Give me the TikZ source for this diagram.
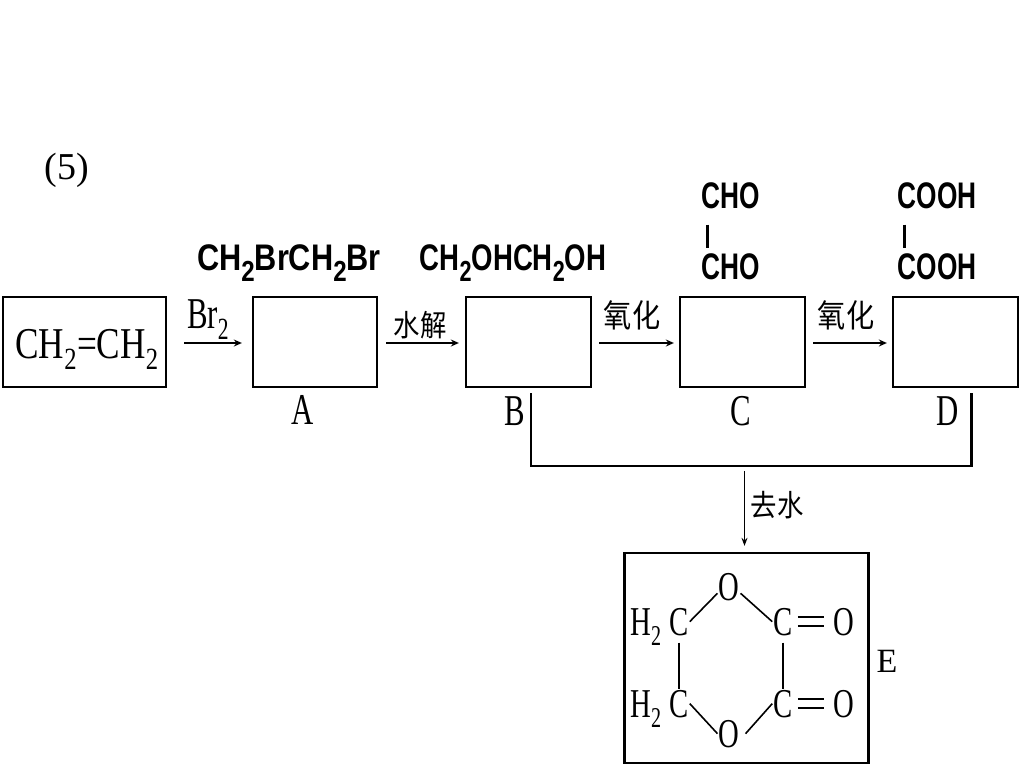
\documentclass[tikz,border=0pt]{standalone}
\usepackage{fontspec}
\usepackage{graphicx}
\setmainfont{Liberation Serif}
\newfontfamily\cjk{Noto Sans CJK SC}
\newfontfamily\hei{Liberation Sans}
\usetikzlibrary{arrows.meta,calc}
\newcommand\sfz[1]{\fontsize{#1}{#1}\selectfont}
\newcommand\nar[2]{\scalebox{#1}[1]{#2}}
\newcommand\bsub[1]{\raisebox{-0.3em}{\sfz{29}#1}}
\begin{document}
\begin{tikzpicture}[x=1pt,y=-1pt,
 box/.style={draw,line width=2.3pt,minimum width=125pt,minimum height=90pt,inner sep=0pt},
 arr/.style={line width=2pt,-{Stealth[length=8pt,width=7pt]}},
 link/.style={line width=2.3pt},
 bond/.style={line width=1.6pt},
 ser/.style={font=\sfz{44},inner sep=0pt,anchor=base},
 hz/.style={font=\cjk\sfz{32},inner sep=0pt},
 bold/.style={font=\hei\bfseries\sfz{37},inner sep=0pt,anchor=base},
 atom/.style={font=\sfz{41},inner sep=1pt,anchor=base}]
\useasboundingbox (0,0) rectangle (1024,768);
\fill[white] (0,0) rectangle (1024,768);

\node[font=\sfz{38},inner sep=0pt] (num) at (67,170) {(5)};

% boxes
\node[box,minimum width=163pt] (S) at (84.5,342) {};
\node[ser] (Stxt) at (87,358) {\nar{0.8}{CH\textsubscript{2}=CH\textsubscript{2}}};
\node[box,minimum width=124pt] (A) at (315,342) {};
\node[box] (B) at (528.5,342) {};
\node[box] (C) at (742.5,342) {};
\node[box] (D) at (955.5,342) {};
\node[box,minimum width=244pt,minimum height=210pt] (E) at (746.5,658) {};

% arrows
\draw[arr] ($(S.east)+(17,1)$) -- ($(A.west)+(-10,1)$);
\node[ser] (lBr) at (208,328) {\nar{0.7}{Br\textsubscript{2}}};
\draw[arr] ($(A.east)+(8,1)$) -- ($(B.west)+(-6,1)$);
\node[hz,font=\cjk\sfz{30}] (lsj) at (420,325) {\nar{0.88}{水解}};
\draw[arr] ($(B.east)+(7,1)$) -- ($(C.west)+(-5,1)$);
\node[hz] (lyh1) at (632,315) {\nar{0.88}{氧化}};
\draw[arr] ($(C.east)+(7,1)$) -- ($(D.west)+(-5,1)$);
\node[hz] (lyh2) at (846,315) {\nar{0.88}{氧化}};

% labels under boxes
\node[ser] (lA) at (303,424) {\nar{0.7}{A}};
\node[ser] (lB) at (515,425) {\nar{0.7}{B}};
\node[ser] (lC) at (741,425) {\nar{0.7}{C}};
\node[ser] (lD) at (948,425) {\nar{0.7}{D}};
\node[ser,font=\sfz{34}] (lE) at (887,672) {E};

% bracket and arrow to E
\draw[link] ($(B.south)+(2.5,5)$) |- ($(D.south)+(16,78)$) -- ($(D.south)+(16,5)$);
\coordinate (join) at ($(E.north)+(-2,-81)$);
\draw[line width=1.4pt,-{Stealth[length=8pt,width=6pt]}] (join) -- ($(E.north)+(-2,-6)$);
\node[hz,font=\cjk\sfz{30}] (lqs) at (777,505) {\nar{0.88}{去水}};

% formulas above
\node[bold] (fA) at (289,270) {\nar{0.83}{CH\bsub{2}BrCH\bsub{2}Br}};
\node[bold] (fB) at (513,270) {\nar{0.745}{CH\bsub{2}OHCH\bsub{2}OH}};
\node[bold] (fC1) at (731,208) {\nar{0.71}{CHO}};
\node[bold] (fC2) at (731,279) {\nar{0.71}{CHO}};
\draw[line width=3.2pt] ($(fC1.south west)+(6,16)$) -- ($(fC2.north west)+(6,-5)$);
\node[bold] (fD1) at (937,208) {\nar{0.71}{COOH}};
\node[bold] (fD2) at (937,279) {\nar{0.71}{COOH}};
\draw[line width=3.2pt] ($(fD1.south west)+(7,16)$) -- ($(fD2.north west)+(7,-5)$);

% ring in E
\node[atom] (c1L) at (679,635) {\nar{0.7}{C}};
\node[atom] (h1) at (646,635) {\nar{0.7}{H\textsubscript{2}}};
\node[atom] (c1R) at (783,635) {\nar{0.7}{C}};
\node[atom] (o1R) at (844,635) {\nar{0.7}{O}};
\node[atom] (oT) at (729,600) {\nar{0.7}{O}};
\node[atom] (c2L) at (679,717) {\nar{0.7}{C}};
\node[atom] (h2) at (646,717) {\nar{0.7}{H\textsubscript{2}}};
\node[atom] (c2R) at (783,717) {\nar{0.7}{C}};
\node[atom] (o2R) at (844,717) {\nar{0.7}{O}};
\node[atom] (oB) at (729,747) {\nar{0.7}{O}};

\draw[bond] (c1L.east) -- (oT.210);
\draw[bond] (oT.330) -- (c1R.west);
\draw[bond] (c2L.east) -- (oB.west);
\draw[bond] ($(oB.east)+(5,0)$) -- (c2R.west);
\draw[bond,shorten <=6pt] (c1L.south) -- (c2L.north);
\draw[bond,shorten <=6pt] (c1R.south) -- (c2R.north);
\draw[bond,shorten <=4pt,shorten >=8pt] ($(c1R.east)+(0,-4.5)$) -- ($(o1R.west)+(0,-4.5)$);
\draw[bond,shorten <=4pt,shorten >=8pt] ($(c1R.east)+(0,4.5)$) -- ($(o1R.west)+(0,4.5)$);
\draw[bond,shorten <=4pt,shorten >=8pt] ($(c2R.east)+(0,-4.5)$) -- ($(o2R.west)+(0,-4.5)$);
\draw[bond,shorten <=4pt,shorten >=8pt] ($(c2R.east)+(0,4.5)$) -- ($(o2R.west)+(0,4.5)$);
\end{tikzpicture}
\end{document}
